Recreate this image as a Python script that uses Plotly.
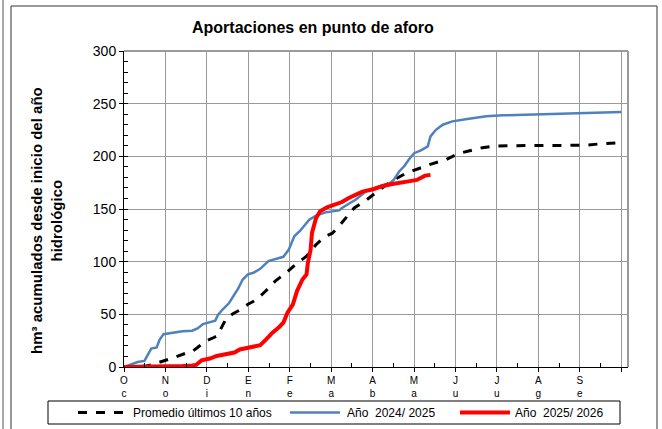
import plotly.graph_objects as go

# dias desde el 1 de octubre (inicio del año hidrológico) y hm3 acumulados
dias_promedio = [0, 9, 16, 21, 29, 36, 46, 50, 54, 59, 66, 69, 71, 75, 80, 86, 91, 97, 104,
                 111, 119, 126, 134, 141, 148, 153, 158, 163, 169, 178, 185, 192, 200, 207,
                 217, 226, 236, 246, 253, 263, 273, 290, 307, 327, 339, 351, 365]
promedio = [0, 0.3, 0.8, 2.5, 5.7, 8.6, 13.4, 14.6, 18.5, 23.9, 28, 30, 36, 46, 50.5,
            54.8, 59.6, 63.6, 72.1, 81.5, 89.4, 97.3, 105.2, 116.2, 124.1, 127, 134, 142,
            151, 158.6, 166, 172.5, 179, 184, 188.7, 192.9, 196.7, 202.8, 205, 208.2,
            209.8, 210.4, 210.4, 210.4, 210.6, 212, 213]

dias_2425 = [0, 6, 10, 15, 18, 20, 24, 26, 29, 35, 43, 50, 54, 58, 64, 67, 69, 72, 77, 80,
             84, 87, 91, 95, 100, 106, 113, 117, 121, 125, 129, 132, 136, 141, 148, 158,
             160, 165, 170, 178, 185, 195, 198, 202, 206, 209, 213, 218, 223, 225, 229,
             234, 241, 252, 266, 278, 302, 327, 351, 365]
anio_2425 = [0, 2.5, 4.7, 5.8, 12.7, 17.5, 18.5, 25.5, 31.2, 32.6, 33.9, 34.4, 36.6, 40.8,
             42.7, 44, 49.4, 54.1, 60.5, 66.9, 74.8, 82.8, 88, 89.4, 93.2, 100.5, 102.7,
             104.6, 111.5, 124.1, 128.9, 133.6, 139.9, 143.7, 146.8, 148.7, 150.9, 155,
             158.8, 167.1, 170.6, 174.4, 177.6, 185.6, 191, 196.7, 203, 205.6, 209.4,
             218.9, 225.2, 230, 233.2, 235.4, 238, 238.9, 239.9, 240.5, 241.3, 242]

dias_2526 = [0, 30, 43, 50, 53, 57, 63, 68, 75, 81, 85, 91, 100, 104, 109, 114, 117, 120,
             124, 127, 131, 134, 135, 137, 138, 141, 144, 149, 155, 160, 165, 170, 175,
             183, 190, 197, 204, 211, 215, 218, 221, 225]
anio_2526 = [0, 0.3, 1.0, 1.5, 2.0, 6.4, 8.0, 10.5, 12.1, 13.7, 16.6, 18.5, 20.7, 25.7,
             32.6, 38.0, 42.1, 51.6, 59.5, 72.1, 83.1, 87.9, 98.9, 111.5, 127.3, 141.5,
             147.8, 151.6, 154.1, 156.6, 160.4, 163.6, 166.5, 168.7, 171.9, 173.8, 175.7,
             176.7, 177.6, 180.2, 181.7, 182.4]

meses = ["Oct", "Nov", "Dic", "Ene", "Feb", "Mar", "Abr", "May", "Jun", "Jul", "Ago", "Sep"]

series = [
    ("Promedio últimos 10 años", dias_promedio, promedio, dict(color="black", width=3, dash="dash")),
    ("Año  2024/ 2025", dias_2425, anio_2425, dict(color="#4F81BD", width=2.5)),
    ("Año  2025/ 2026", dias_2526, anio_2526, dict(color="#FF0000", width=4)),
]

W, H = 662, 429
L, R, T, B = 124, 628, 51, 367


def xp(px):
    return (px - L) / (R - L)


def yp(py):
    return (B - py) / (B - T)


mes_len = 365 / 12
tick_vals = [i * mes_len for i in range(13)]
tick_text = ["<br>".join(m) for m in meses] + [""]
minor_vals = [(i + 0.5) * mes_len for i in range(12)]

fig = go.Figure()
for nombre, xs, ys, estilo in series:
    fig.add_trace(go.Scatter(x=xs, y=ys, mode="lines", name=nombre, line=estilo))

fig.update_xaxes(range=[0, 370], tickvals=tick_vals, ticktext=tick_text,
                 showgrid=True, gridcolor="#9a9a9a", gridwidth=1,
                 showline=True, linecolor="black", linewidth=1,
                 ticks="outside", ticklen=4, tickcolor="black",
                 tickfont=dict(family="Liberation Sans, Arial", size=10, color="black"),
                 minor=dict(tickvals=minor_vals, ticks="inside", ticklen=4,
                            tickcolor="black", showgrid=False),
                 zeroline=False, fixedrange=True)
fig.update_yaxes(range=[0, 300], dtick=50,
                 showgrid=True, gridcolor="#9a9a9a", gridwidth=1,
                 showline=True, linecolor="black", linewidth=1,
                 ticks="outside", ticklen=4, tickcolor="black",
                 tickfont=dict(family="Liberation Sans, Arial", size=14, color="black"),
                 minor=dict(dtick=10, ticks="inside", ticklen=4,
                            tickcolor="black", showgrid=False),
                 zeroline=False, fixedrange=True)

formas = [
    # borde del area de grafico (arriba y derecha en gris)
    dict(type="line", x0=0, x1=1, y0=1, y1=1, line=dict(color="#9a9a9a", width=2)),
    dict(type="line", x0=1, x1=1, y0=0, y1=1, line=dict(color="#9a9a9a", width=2)),
    # marco exterior
    dict(type="line", x0=xp(3), x1=xp(3), y0=yp(0), y1=yp(429), line=dict(color="#555", width=1)),
    dict(type="line", x0=xp(11), x1=xp(11), y0=yp(6), y1=yp(429), line=dict(color="#333", width=1)),
    dict(type="line", x0=xp(11), x1=xp(657), y0=yp(6), y1=yp(6), line=dict(color="#333", width=1)),
    dict(type="line", x0=xp(657), x1=xp(657), y0=yp(6), y1=yp(429), line=dict(color="#333", width=1)),
    # caja de la leyenda
    dict(type="rect", x0=xp(48), x1=xp(620), y0=yp(401), y1=yp(424),
         fillcolor="white", line=dict(color="black", width=1)),
]

# leyenda dibujada a mano: muestra de linea + texto
muestras = [(78, 128, 131), (290, 340, 345), (460, 510, 513)]
for (nombre, _, _, estilo), (x0, x1, xt) in zip(series, muestras):
    formas.append(dict(type="line", x0=xp(x0), x1=xp(x1), y0=yp(412.5), y1=yp(412.5),
                       line=estilo))
    fig.add_annotation(x=xp(xt), y=yp(412.5), xref="paper", yref="paper",
                       xanchor="left", yanchor="middle", text=nombre, showarrow=False,
                       font=dict(family="Liberation Sans, Arial", size=12, color="black"))

for s in formas:
    s.update(xref="paper", yref="paper", layer="above")
fig.update_layout(shapes=formas)

fig.add_annotation(x=xp(313), y=yp(27), xref="paper", yref="paper",
                   xanchor="center", yanchor="middle",
                   text="<b>Aportaciones en punto de aforo</b>", showarrow=False,
                   font=dict(family="Liberation Sans, Arial", size=16, color="black"))
fig.add_annotation(x=xp(46), y=yp(221), xref="paper", yref="paper", textangle=-90,
                   xanchor="center", yanchor="middle",
                   text="<b>hm³ acumulados desde inicio del año<br>hidrológico</b>",
                   showarrow=False,
                   font=dict(family="Liberation Sans, Arial", size=15, color="black"))

fig.update_layout(
    width=W, height=H,
    margin=dict(l=L, r=W - R, t=T, b=H - B, autoexpand=False),
    paper_bgcolor="white", plot_bgcolor="white",
    showlegend=False,
)

# sin el margen por defecto del <body>, la figura ocupa justo la ventana
fig.write_html("out.html", config={"displayModeBar": False},
               post_script="document.body.style.margin='0';")
